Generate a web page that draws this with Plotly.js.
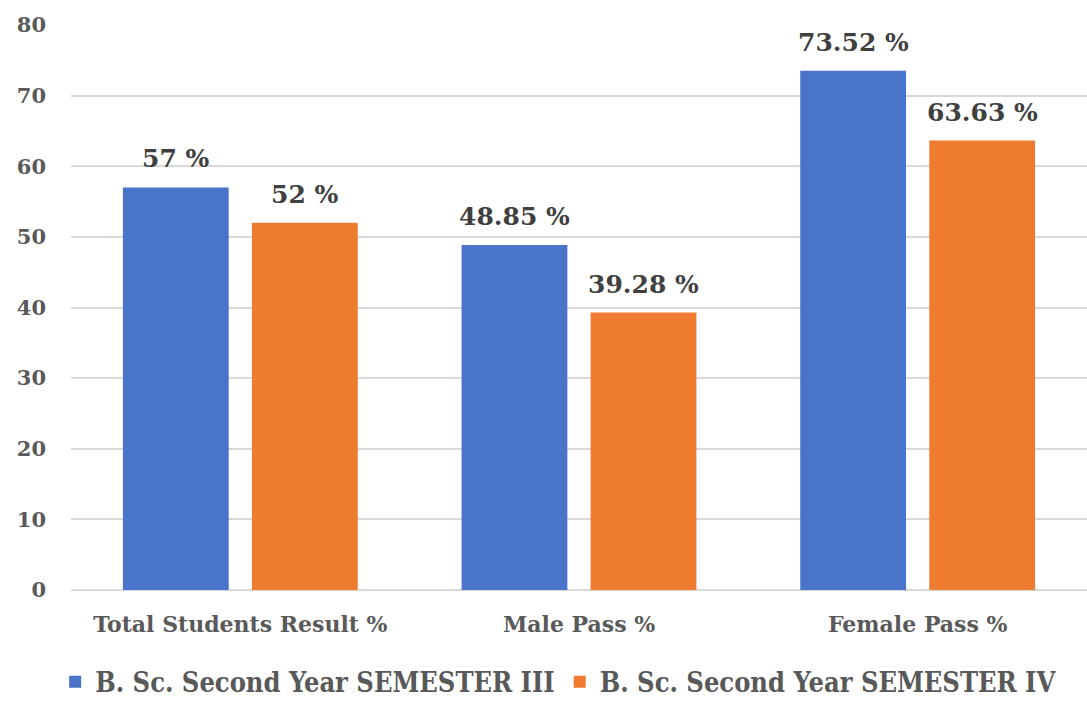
<!DOCTYPE html>
<html>
<head>
<meta charset="utf-8">
<script src="https://cdn.plot.ly/plotly-3.0.1.min.js"></script>
<style>html,body{margin:0;padding:0;background:#fff;}#chart{width:1087px;height:720px;}</style>
</head>
<body>
<div id="chart"></div>
<script>
var categories = ["Total Students Result %", "Male Pass %", "Female Pass %"];
var seriesNames = ["B. Sc. Second Year SEMESTER III", "B. Sc. Second Year SEMESTER IV"];
var sem3Values = [57, 48.85, 73.52];
var sem4Values = [52, 39.28, 63.63];
var sem3Labels = ["57 %", "48.85 %", "73.52 %"];
var sem4Labels = ["52 %", "39.28 %", "63.63 %"];
var yTickValues = [0, 10, 20, 30, 40, 50, 60, 70, 80];

var serif = "DejaVu Serif, serif";
var serifCond = "DejaVu Serif Condensed, DejaVu Serif, serif";
var labelFont = {family: serif, size: 25, color: "#404040", weight: 700};

var traces = [
  {type: "bar", name: seriesNames[0], x: categories, y: sem3Values,
   marker: {color: "#4A74C9"}, hoverinfo: "none"},
  {type: "bar", name: seriesNames[1], x: categories, y: sem4Values,
   marker: {color: "#EE7B30"}, hoverinfo: "none"}
];

// data labels placed above each bar (offset to the bar's slot within the group)
var slotShift = 64.5;
var annotations = [];
categories.forEach(function (c, i) {
  annotations.push({x: c, y: sem3Values[i], text: sem3Labels[i], xref: "x", yref: "y",
    showarrow: false, xshift: -slotShift, yshift: 12, yanchor: "bottom", font: labelFont});
  annotations.push({x: c, y: sem4Values[i], text: sem4Labels[i], xref: "x", yref: "y",
    showarrow: false, xshift: slotShift, yshift: 12, yanchor: "bottom", font: labelFont});
});

var layout = {
  width: 1087, height: 720,
  margin: {l: 71, r: 0, t: 25, b: 130},
  paper_bgcolor: "#ffffff", plot_bgcolor: "#ffffff",
  barmode: "group", bargap: 0.238, bargroupgap: 0.18,
  showlegend: true,
  annotations: annotations,
  legend: {orientation: "h", x: 0.48, xanchor: "center", y: -0.12, yanchor: "top",
           font: {family: serifCond, size: 27, color: "#595959", weight: 700},
           itemwidth: 30, tracegroupgap: 0},
  xaxis: {type: "category", showgrid: false, zeroline: false, showline: false, ticks: "",
          ticklabelstandoff: 19,
          tickfont: {family: serif, size: 22, color: "#595959", weight: 700}},
  yaxis: {range: [0, 80], tickvals: yTickValues, showgrid: true, gridcolor: "#d9d9d9", gridwidth: 2,
          zeroline: true, zerolinecolor: "#d9d9d9", zerolinewidth: 2, showline: false, ticks: "",
          ticklabelstandoff: 24,
          tickfont: {family: serif, size: 21, color: "#595959", weight: 700}}
};

Plotly.newPlot("chart", traces, layout, {displayModeBar: false, staticPlot: true});
</script>
</body>
</html>
